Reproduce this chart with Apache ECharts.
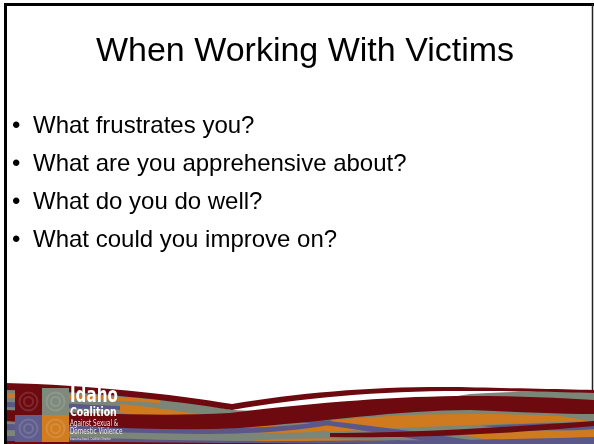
<!DOCTYPE html>
<html>
<head>
<meta charset="utf-8">
<script src="https://cdn.jsdelivr.net/npm/echarts@6/dist/echarts.min.js"></script>
<style>html,body{margin:0;padding:0;background:#fff}#c{width:594px;height:444px}</style>
</head>
<body>
<div id="c"></div>
<script>
const titleText = 'When Working With Victims';
const bullets = ['What frustrates you?', 'What are you apprehensive about?', 'What do you do well?', 'What could you improve on?'];
const logoLines = ['Idaho', 'Coalition', 'Against Sexual &', 'Domestic Violence', 'Executive Board, Coalition Director'];

const C = { maroon: '#6c0a0f', orange: '#cf7a1e', green: '#7b8678', purple: '#5b5889' };
const chart = echarts.init(document.getElementById('c'), null, { renderer: 'canvas' });
const g = [];
function P(d, fill) { g.push({ type: 'path', shape: { pathData: d }, style: { fill: fill } }); }

// banner base (grey-green)
P('M5,388 C100,390 170,398 232,410 C330,414 410,404 470,394 C520,391 560,391 594,391 L594,444 L5,444 Z', C.green);
// left stripes
P('M5,393 C60,394 110,396 160,400 L160,403 C110,400 60,398 5,398 Z', C.orange);
P('M5,402 C60,403 110,405 160,409 L160,412 C110,409 60,408 5,407 Z', C.purple);
// orange ribbons
P('M120,404 C180,410 220,418 260,424 C300,430 320,428 340,422 L340,428 C300,436 240,434 180,424 C150,419 130,414 120,412 Z', C.orange);
P('M300,424 C380,414 460,412 560,416 L588,421 C500,424 420,426 330,432 Z', C.orange);
P('M440,433 C500,430 560,431 594,430 L594,444 L470,444 C500,440 480,437 440,433 Z', C.orange);
P('M250,441 C300,437 360,438 420,444 L250,444 Z', C.orange);
// purple ribbons
P('M5,424 C80,426 150,428 220,428 C260,428 300,426 330,420 L334,424 C300,431 250,434 200,434 C130,433 60,431 5,430 Z', C.purple);
P('M300,418 C360,424 420,432 470,440 L480,444 L440,444 C400,436 350,428 300,422 Z', C.purple);
P('M5,436 C120,438 200,442 300,441 C380,440 460,441 594,437 L594,444 L5,444 Z', C.purple);
P('M480,426 C530,423 570,423 594,422 L594,429 C570,431 530,431 480,426 Z', C.purple);
// maroon ribbons
P('M5,383 C90,385 170,394 232,404 C300,392 380,386 460,387 C500,388 560,389 594,390 L594,393 C560,392 500,391 460,391 C380,391 300,398 232,410 C170,400 90,391 5,390 Z', C.maroon);
P('M5,410 C90,413 160,417 230,413 C320,402 400,396 470,396 C520,396 560,398 594,400 L594,414 C560,414 520,412 470,410 C400,410 320,422 240,428 C160,432 80,426 5,421 Z', C.maroon);
P('M330,433 C400,433 480,429 594,421 L594,426 C480,436 400,438 330,437 Z', C.maroon);
P('M5,441 C150,442 300,444 420,444 L5,444 Z', C.maroon);

// logo squares
const sq = [[15, 388, C.maroon], [42, 388, '#7e8a7e'], [15, 415, '#5e5d8d'], [42, 415, '#d07c1f']];
sq.forEach(s => {
  g.push({ type: 'rect', shape: { x: s[0], y: s[1], width: 27, height: 27 }, style: { fill: s[2] } });
  g.push({ type: 'circle', shape: { cx: s[0] + 13.5, cy: s[1] + 13.5, r: 9 }, style: { fill: null, stroke: 'rgba(255,255,255,0.13)', lineWidth: 2 } });
  g.push({ type: 'circle', shape: { cx: s[0] + 13.5, cy: s[1] + 13.5, r: 4.5 }, style: { fill: null, stroke: 'rgba(255,255,255,0.13)', lineWidth: 2 } });
});
const logoFont = '"Liberation Sans Narrow","DejaVu Sans Condensed",sans-serif';
function T(x, y, text, font, fill, align, valign, sx) {
  g.push({ type: 'text', x: x, y: y, scaleX: sx || 1, style: { text: text, fill: fill, font: font, textAlign: align || 'left', textVerticalAlign: valign || 'bottom' } });
}
T(70, 407, logoLines[0], 'bold 21px ' + logoFont, '#fff', 'left', 'bottom', 0.8);
T(70, 419, logoLines[1], 'bold 13px ' + logoFont, '#fff', 'left', 'bottom', 0.8);
T(70, 428, logoLines[2], '8.5px ' + logoFont, '#f0e6e6', 'left', 'bottom', 0.74);
T(70, 436, logoLines[3], '8.5px ' + logoFont, '#f0e6e6', 'left', 'bottom', 0.74);
T(70, 441.5, logoLines[4], '3.5px ' + logoFont, '#f0e6e6', 'left', 'bottom', 0.74);

// frame
g.push({ type: 'line', shape: { x1: 4, y1: 4.5, x2: 594, y2: 4.5 }, style: { stroke: '#000', lineWidth: 3 } });
g.push({ type: 'line', shape: { x1: 5.5, y1: 3, x2: 5.5, y2: 444 }, style: { stroke: '#000', lineWidth: 3 } });
g.push({ type: 'line', shape: { x1: 592.5, y1: 4, x2: 592.5, y2: 390 }, style: { stroke: '#222', lineWidth: 1.5 } });

// title and bullets
const F = '"Liberation Sans", Arial, sans-serif';
T(305, 52, titleText, '34px ' + F, '#000', 'center', 'middle');
bullets.forEach((b, i) => {
  const y = 126 + i * 38;
  T(12, y, '\u2022', '24px ' + F, '#000', 'left', 'middle');
  T(33, y, b, '24px ' + F, '#000', 'left', 'middle');
});

chart.setOption({
  animation: false,
  backgroundColor: '#fff',
  series: [{
    type: 'custom',
    coordinateSystem: 'none',
    silent: true,
    data: [0],
    renderItem: function () { return { type: 'group', children: g }; }
  }]
});
</script>
</body>
</html>
